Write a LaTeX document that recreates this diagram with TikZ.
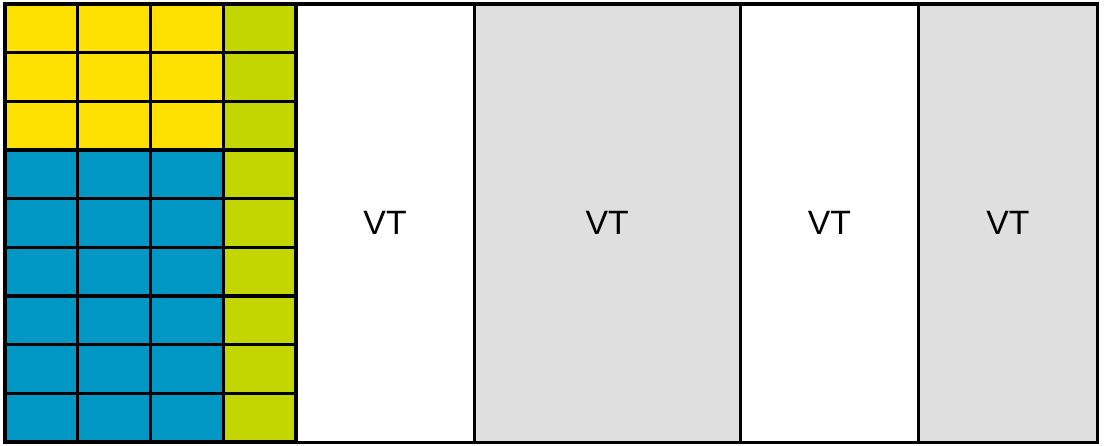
\documentclass[tikz,border=0pt]{standalone}
\usepackage{fontspec}
\setmainfont{Liberation Sans}
\usetikzlibrary{positioning}
\definecolor{cellyellow}{RGB}{255,225,0}
\definecolor{cellblue}{RGB}{0,151,196}
\definecolor{cellgreen}{RGB}{196,214,0}
\definecolor{vtgray}{RGB}{223,223,223}
\tikzset{
  cell/.style={draw=black, line width=0.9pt},
  vtbox/.style={draw=black, line width=0.9pt, outer sep=0pt, inner sep=0pt,
    minimum height=4.38cm, font=\fontsize{9.6}{12}\selectfont},
}
\begin{document}
\begin{tikzpicture}[x=0.01cm,y=-0.01cm]
    \useasboundingbox (0,0) rectangle (1104,445);
    % register cells
    \foreach \c in {0,1,2} {
        \foreach \r in {0,1,2}
            \filldraw[cell, fill=cellyellow] ({5+72.75*\c},{4+48.67*\r}) rectangle +(72.75,48.67);
        \foreach \r in {3,...,8}
            \filldraw[cell, fill=cellblue] ({5+72.75*\c},{4+48.67*\r}) rectangle +(72.75,48.67);
    }
    \foreach \r in {0,...,8}
        \filldraw[cell, fill=cellgreen] (223.25,{4+48.67*\r}) rectangle +(72.75,48.67);
    % VT columns
    \node[vtbox, fill=white, minimum width=1.78cm, anchor=north west] (vt1) at (296,4) {VT};
    \node[vtbox, fill=vtgray, minimum width=2.66cm, right=0pt of vt1] (vt2) {VT};
    \node[vtbox, fill=white, minimum width=1.78cm, right=0pt of vt2] (vt3) {VT};
    \node[vtbox, fill=vtgray, minimum width=1.79cm, right=0pt of vt3] (vt4) {VT};
\end{tikzpicture}
\end{document}
